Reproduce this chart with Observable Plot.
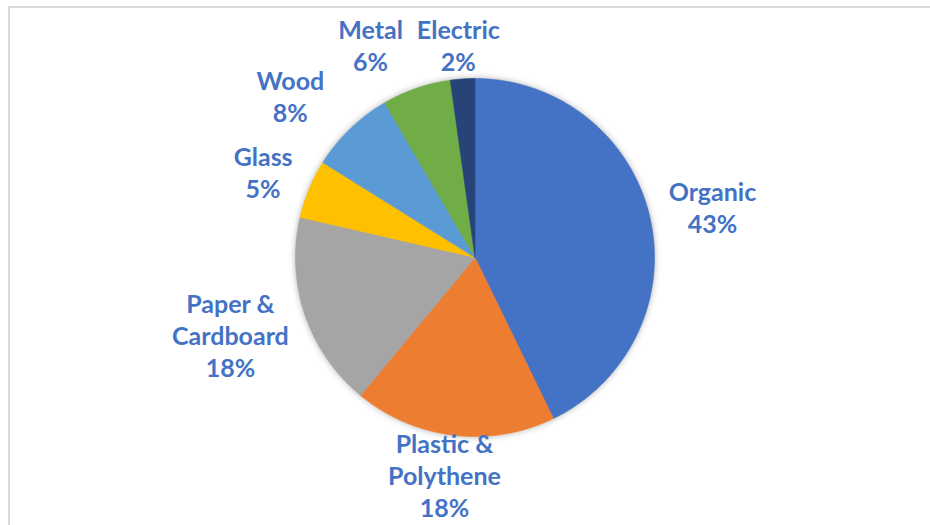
<!DOCTYPE html>
<html><head><meta charset="utf-8">
<script src="https://cdn.jsdelivr.net/npm/d3@7"></script>
<script src="https://cdn.jsdelivr.net/npm/@observablehq/plot@0.6"></script>
<style>
body{margin:0;background:#fff;}
#wrap{position:relative;width:930px;height:525px;overflow:hidden;}
#border{position:absolute;left:8px;top:6px;right:-10px;bottom:-10px;border-left:2px solid #d9d9d9;border-top:2px solid #d9d9d9;pointer-events:none;}
</style></head><body><div id="wrap"><div id="chart"></div><div id="border"></div></div>
<script>
// ---- data ----
const categories = ["Organic", "Plastic & Polythene", "Paper & Cardboard", "Glass", "Wood", "Metal", "Electric"];
const labelNames = [["Organic"], ["Plastic &", "Polythene"], ["Paper &", "Cardboard"], ["Glass"], ["Wood"], ["Metal"], ["Electric"]];
const shares = [42.8, 18.2, 17.6, 5.3, 7.7, 6.2, 2.2];
const colors = ["#4472C4", "#ED7D31", "#A5A5A5", "#FFC000", "#5B9BD5", "#70AD47", "#264478"];

// ---- layout ----
const W = 930, H = 525;
const mL = 295, mR = 276, mT = 78, mB = 89;
const R = (W - mL - mR) / 2;
const cx = mL + R, cy = mT + R;
const fontSize = 25, lineH = 32, fontFamily = "Lato";

const arcs = d3.pie().sort(null).value(d => d)(shares);

// slice outlines in data units (unit circle)
const slicePts = [];
arcs.forEach((a, i) => {
  const cat = categories[i];
  slicePts.push({cat, x: 0, y: 0});
  const n = Math.max(2, Math.ceil((a.endAngle - a.startAngle) / (Math.PI / 360)));
  for (let k = 0; k <= n; k++) {
    const t = a.startAngle + (a.endAngle - a.startAngle) * k / n;
    slicePts.push({cat, x: Math.sin(t), y: Math.cos(t)});
  }
  slicePts.push({cat, x: 0, y: 0});
});

// label placement (outside end, with simple collision avoidance)
const ctx = document.createElement("canvas").getContext("2d");
ctx.font = `bold ${fontSize}px ${fontFamily}`;
const labels = arcs.map((a, i) => {
  const lines = [...labelNames[i], Math.round(shares[i]) + "%"];
  const w = d3.max(lines, l => ctx.measureText(l).width) + 12;
  const h = lines.length * lineH;
  const m = (a.startAngle + a.endAngle) / 2;
  const s = Math.sin(m), c = Math.cos(m);
  let px = cx + R * 1.08 * s + (w / 2) * s;
  let py = cy - R * 1.08 * c - (h / 2) * c;
  py = Math.max(12 + h / 2, Math.min(H - 2 - h / 2, py));
  return {text: lines.join("\n"), w, h, px, py, s};
});
const placed = [];
for (let i = labels.length - 1; i >= 0; i--) {
  const L = labels[i];
  for (const P of placed) {
    const ox = Math.min(L.px + L.w / 2, P.px + P.w / 2) - Math.max(L.px - L.w / 2, P.px - P.w / 2);
    const oy = Math.min(L.py + L.h / 2, P.py + P.h / 2) - Math.max(L.py - L.h / 2, P.py - P.h / 2);
    if (ox > 0 && oy > 0) L.px += (L.s < 0 ? -1 : 1) * (ox + 2);
  }
  placed.push(L);
}
labels.forEach(L => { L.x = (L.px - cx) / R; L.y = (cy - L.py) / R; });

const chart = Plot.plot({
  width: W, height: H,
  marginLeft: mL, marginRight: mR, marginTop: mT, marginBottom: mB,
  x: {domain: [-1, 1], axis: null},
  y: {domain: [-1, 1], axis: null},
  color: {domain: categories, range: colors},
  style: {background: "#fff", overflow: "visible"},
  marks: [
    Plot.line(slicePts, {x: "x", y: "y", z: "cat", fill: "cat", stroke: "cat", strokeWidth: 0.6, curve: "linear"}),
    Plot.text(labels, {x: "x", y: "y", text: "text", fill: "#4472C4", fontSize, fontWeight: "bold",
      fontFamily, lineHeight: lineH / fontSize})
  ]
});
const g = chart.querySelector('g[aria-label="line"]');
if (g) g.setAttribute("style", "filter: drop-shadow(0px 0px 3px rgba(0,0,0,0.3))");
document.getElementById("chart").appendChild(chart);
</script></body></html>
